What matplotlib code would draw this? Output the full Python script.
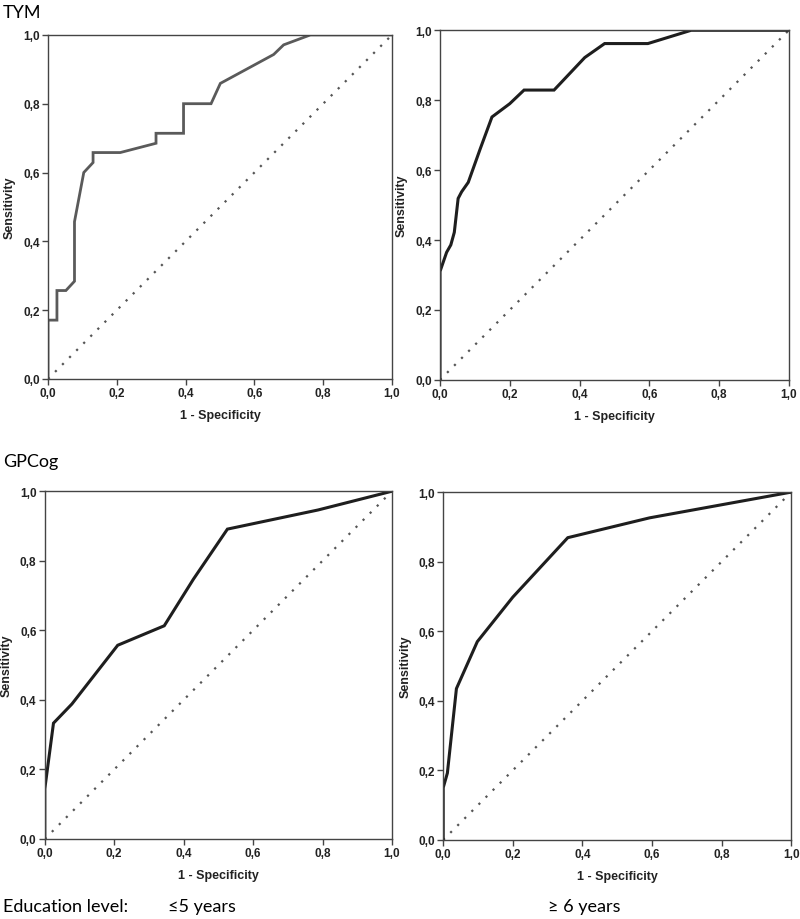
import matplotlib
matplotlib.use("Agg")
import matplotlib.pyplot as plt
from matplotlib.ticker import FuncFormatter

# ROC curves (1 - specificity, sensitivity)
tym_low_x = [0, 0, 0.026, 0.026, 0.052, 0.077, 0.077, 0.104, 0.131, 0.131, 0.210,
             0.314, 0.314, 0.394, 0.394, 0.474, 0.501, 0.656, 0.685, 0.763, 1.0]
tym_low_y = [0, 0.171, 0.171, 0.257, 0.257, 0.284, 0.457, 0.600, 0.629, 0.658, 0.658,
             0.685, 0.714, 0.714, 0.800, 0.800, 0.859, 0.943, 0.971, 1.0, 1.0]

tym_high_x = [0, 0, 0.019, 0.031, 0.041, 0.052, 0.062, 0.081, 0.115, 0.149, 0.200,
              0.241, 0.327, 0.415, 0.472, 0.596, 0.720, 1.0]
tym_high_y = [0, 0.310, 0.365, 0.386, 0.422, 0.519, 0.538, 0.565, 0.660, 0.752, 0.790,
              0.829, 0.829, 0.922, 0.962, 0.962, 1.0, 1.0]

gp_low_x = [0, 0, 0.025, 0.078, 0.210, 0.344, 0.428, 0.526, 0.787, 1.0]
gp_low_y = [0, 0.144, 0.333, 0.388, 0.557, 0.613, 0.747, 0.891, 0.946, 1.0]

gp_high_x = [0, 0, 0.012, 0.038, 0.098, 0.200, 0.358, 0.593, 1.0]
gp_high_y = [0, 0.150, 0.192, 0.435, 0.570, 0.698, 0.869, 0.926, 1.0]

ticks = [0, 0.2, 0.4, 0.6, 0.8, 1.0]

title_font = ['Lato', 'DejaVu Sans']
tick_font = ['Liberation Sans', 'DejaVu Sans']


def comma(v, pos):
    return f"{v:.1f}".replace('.', ',')


def roc_panel(fig, rect, xs, ys, color, lw):
    ax = fig.add_axes(rect)
    ax.plot([0, 1], [0, 1], linestyle=(0, (1, 3.5)), color='#555555', linewidth=1.6)
    ax.plot(xs, ys, color=color, linewidth=lw, solid_joinstyle='miter')
    ax.set_xlim(0, 1)
    ax.set_ylim(0, 1)
    ax.set_xticks(ticks)
    ax.set_yticks(ticks)
    ax.xaxis.set_major_formatter(FuncFormatter(comma))
    ax.yaxis.set_major_formatter(FuncFormatter(comma))
    for s in ax.spines.values():
        s.set_color('#444444')
        s.set_linewidth(1.0)
    ax.tick_params(direction='out', length=4, width=1, color='#444444', pad=2)
    for lab in ax.get_xticklabels() + ax.get_yticklabels():
        lab.set_family(tick_font)
        lab.set_fontweight('bold')
        lab.set_fontsize(8.5)
        lab.set_color('#222222')
    ax.set_xlabel('1 - Specificity', family=tick_font, fontweight='bold', fontsize=9,
                  color='#222222', labelpad=7)
    ax.set_ylabel('Sensitivity', family=tick_font, fontweight='bold', fontsize=9,
                  color='#222222', labelpad=5)
    return ax


fig = plt.figure(figsize=(8, 9.2), dpi=100)

roc_panel(fig, [0.060, 0.587, 0.430, 0.374], tym_low_x, tym_low_y, '#5a5a5a', 2.0)
roc_panel(fig, [0.550, 0.586, 0.436, 0.380], tym_high_x, tym_high_y, '#1e1e1e', 2.2)
roc_panel(fig, [0.056, 0.087, 0.434, 0.378], gp_low_x, gp_low_y, '#1e1e1e', 2.2)
roc_panel(fig, [0.554, 0.086, 0.435, 0.378], gp_high_x, gp_high_y, '#1e1e1e', 2.2)

fig.text(0.004, 0.986, 'TYM', family=title_font, fontsize=13, va='center', ha='left')
fig.text(0.004, 0.498, 'GPCog', family=title_font, fontsize=13, va='center', ha='left')
fig.text(0.004, 0.014, 'Education level:', family=title_font, fontsize=13, va='center', ha='left')
fig.text(0.210, 0.014, '≤5 years', family=title_font, fontsize=13, va='center', ha='left')
fig.text(0.685, 0.014, '≥ 6 years', family=title_font, fontsize=13, va='center', ha='left')

fig.savefig('out.png', dpi=100, facecolor='white')
